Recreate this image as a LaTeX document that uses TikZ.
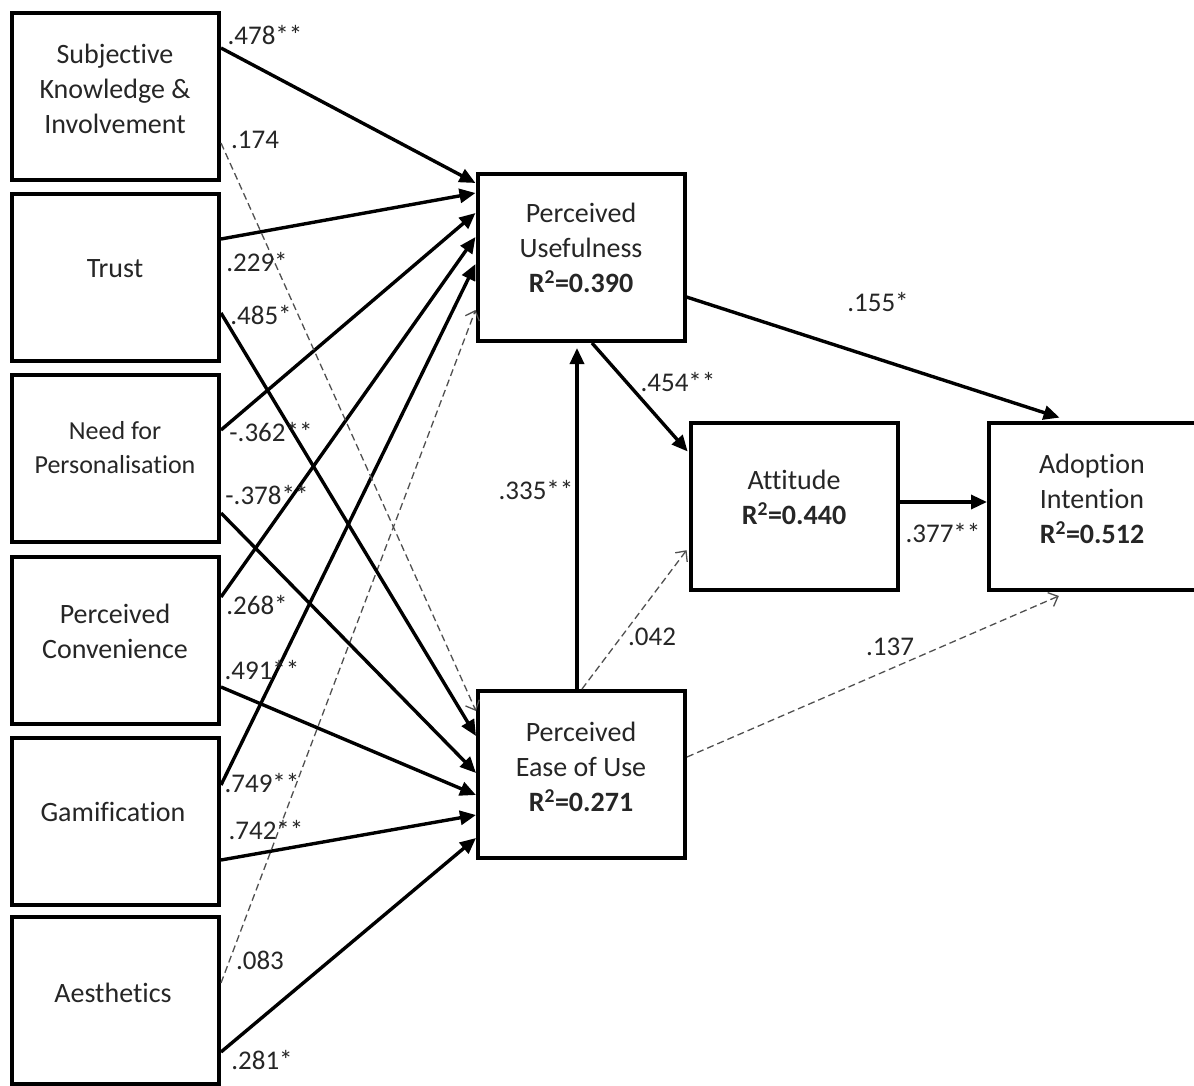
\documentclass[tikz,border=0pt]{standalone}
\usepackage{fontspec}
\setmainfont[Ligatures=NoCommon]{Carlito}
\usetikzlibrary{arrows.meta}
\definecolor{tc}{RGB}{38,38,38}
\definecolor{dg}{RGB}{80,80,80}
\begin{document}
\begin{tikzpicture}[x=1pt,y=-1pt,
  box/.style={draw, line width=4pt, minimum width=207pt, minimum height=167pt, inner sep=0pt},
  txt/.style={align=center, font=\fontsize{28}{35}\selectfont, text=tc, inner sep=0pt},
  lab/.style={font=\fontsize{27}{32}\selectfont, text=tc, inner sep=0pt},
  solidarr/.style={line width=3.4pt, -{Triangle[length=16pt,width=14pt]}},
  dasharr/.style={draw=dg, line width=1.3pt, dash pattern=on 7pt off 4pt, -{Straight Barb[length=8pt,width=15pt]}}
]
\useasboundingbox (0,0) rectangle (1194,1086);
\fill[white] (0,0) rectangle (1194,1086);

% boxes
\node[box] (sk) at (115.5,96.5) {};
\node[box] (tr) at (115.5,277.5) {};
\node[box] (nfp) at (115.5,458.5) {};
\node[box] (pc) at (115.5,640.5) {};
\node[box] (gam) at (115.5,821) {};
\node[box] (aes) at (115.5,1000.5) {};
\node[box] (pu) at (581,257.5) {};
\node[box] (peou) at (581.5,774.5) {};
\node[box] (att) at (794.5,506.5) {};
\node[box] (ai) at (1092.5,506.5) {};

% box texts
\node[txt] (skt) at (115,88.5) {Subjective\\Knowledge \&\\Involvement};
\node[txt] (trt) at (115,269) {Trust};
\node[txt, font=\fontsize{26}{34}\selectfont] (nfpt) at (115,448) {Need for\\Personalisation};
\node[txt] (pct) at (115,631.5) {Perceived\\Convenience};
\node[txt] (gamt) at (113,812) {Gamification};
\node[txt] (aest) at (113,993) {Aesthetics};
\node[txt] (put) at (581,248) {Perceived\\Usefulness\\\textbf{R\textsuperscript{2}=0.390}};
\node[txt] (peout) at (581,767) {Perceived\\Ease of Use\\\textbf{R\textsuperscript{2}=0.271}};
\node[txt] (attt) at (794,497.5) {Attitude\\\textbf{R\textsuperscript{2}=0.440}};
\node[txt] (ait) at (1092,499) {Adoption\\Intention\\\textbf{R\textsuperscript{2}=0.512}};

% arrows to PU
\draw[solidarr] ([yshift=48.5pt]sk.east) -- ([yshift=74.5pt]pu.west);
\draw[solidarr] ([yshift=38.5pt]tr.east) -- ([yshift=64.5pt]pu.west);
\draw[solidarr] ([yshift=28.5pt]nfp.east) -- ([yshift=44.5pt]pu.west);
\draw[solidarr] ([yshift=43.5pt]pc.east) -- ([yshift=20.5pt]pu.west);
\draw[solidarr] ([yshift=36pt]gam.east) -- ([yshift=-6.5pt]pu.west);
\draw[dasharr] ([yshift=17.5pt]aes.east) -- ([yshift=-52.5pt]pu.west);

% arrows to PEOU
\draw[dasharr] ([yshift=-46.5pt]sk.east) -- ([yshift=63.5pt]peou.west);
\draw[solidarr] ([yshift=-35.5pt]tr.east) -- ([yshift=38.5pt]peou.west);
\draw[solidarr] ([yshift=-54.5pt]nfp.east) -- ([yshift=1.5pt]peou.west);
\draw[solidarr] ([yshift=-46.5pt]pc.east) -- ([yshift=-20.5pt]peou.west);
\draw[solidarr] ([yshift=-39pt]gam.east) -- ([yshift=-40.5pt]peou.west);
\draw[solidarr] ([yshift=-51.5pt]aes.east) -- ([yshift=-63.5pt]peou.west);

% right part
\draw[solidarr, shorten >=5pt] ([xshift=-4.5pt]peou.north) -- ([xshift=-4pt]pu.south);
\draw[solidarr, shorten >=2pt] ([xshift=11pt]pu.south) -- ([yshift=53.5pt]att.west);
\draw[solidarr, shorten >=11pt] ([yshift=-39.5pt]pu.east) -- ([xshift=-22.5pt]ai.north);
\draw[solidarr] ([yshift=4.5pt]att.east) -- ([yshift=4.5pt]ai.west);
\draw[dasharr, shorten >=4pt] ([xshift=0.5pt]peou.north) -- ([yshift=-40.5pt]att.west);
\draw[dasharr, shorten >=10pt] ([yshift=17.5pt]peou.east) -- ([xshift=-24.5pt]ai.south);

% labels
\node[lab] (l1) at (265,35) {.478**};
\node[lab] (l2) at (255,140) {.174};
\node[lab] (l3) at (257,262) {.229*};
\node[lab] (l4) at (261,315) {.485*};
\node[lab] (l5) at (271,432) {-.362**};
\node[lab] (l6) at (267,495) {-.378**};
\node[lab] (l7) at (257,605) {.268*};
\node[lab] (l8) at (262,670) {.491**};
\node[lab] (l9) at (262,783) {.749**};
\node[lab] (l10) at (266,830) {.742**};
\node[lab] (l11) at (260,960) {.083};
\node[lab] (l12) at (262,1060) {.281*};
\node[lab] (l13) at (878,302) {.155*};
\node[lab] (l14) at (678,382) {.454**};
\node[lab] (l15) at (536,490) {.335**};
\node[lab] (l16) at (652,637) {.042};
\node[lab] (l17) at (943,533) {.377**};
\node[lab] (l18) at (890,647) {.137};
\end{tikzpicture}
\end{document}
